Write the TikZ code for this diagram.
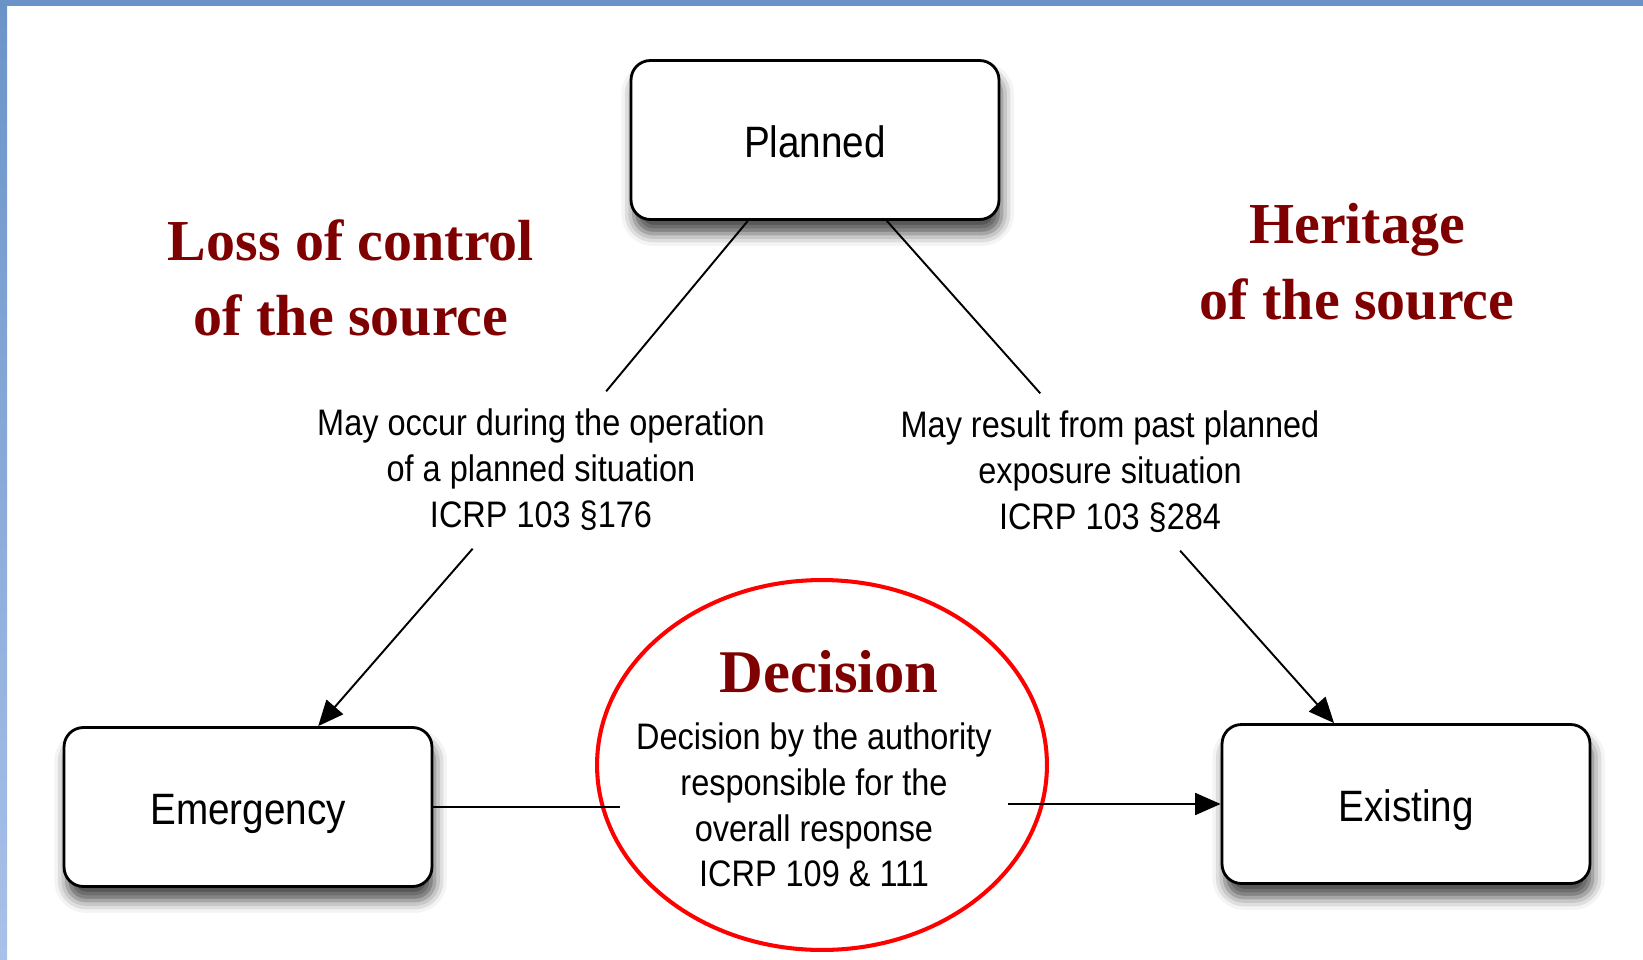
\documentclass[tikz,border=0pt]{standalone}
\usepackage{fontspec}
\setmainfont{Liberation Sans}[FakeStretch=0.88]
\newfontfamily\headfont{Liberation Serif}
\usetikzlibrary{arrows.meta,shapes.geometric,shadows.blur}

\definecolor{headred}{HTML}{7F0000}
\definecolor{barblue}{HTML}{6A94C8}
\definecolor{barlight}{HTML}{A9C1EA}

\begin{document}
\begin{tikzpicture}[x=0.02cm,y=-0.02cm]
\useasboundingbox (0,0) rectangle (1643,960);

% Slide frame: blue bar on top, shaded bar on the left
\fill[barblue] (0,0) rectangle (1643,6);
\shade[top color=barblue,bottom color=barlight] (0,6) rectangle (7,960);

% Styles for the three situations, the notes and the red headings
\tikzstyle{state}=[draw, line width=1.6pt, rounded corners=11pt, fill=white,
  minimum width=7.36cm, minimum height=3.18cm, text height=19.5pt, text depth=0pt,
  font=\fontsize{25}{30}\selectfont,
  blur shadow={shadow xshift=1.5pt, shadow yshift=-8pt, shadow blur radius=7pt, shadow opacity=70}]
\tikzstyle{note}=[align=center, inner sep=10pt, font=\fontsize{21}{26.1}\selectfont]
\tikzstyle{head}=[align=center, text=headred, font=\headfont\bfseries\fontsize{33}{43}\selectfont]
\tikzstyle{link}=[line width=1.1pt]
\tikzstyle{arrow}=[link, -{Triangle[length=14.5pt, width=12.5pt]}]

% The three exposure situations
\node[state] (planned) at (815,140) {Planned};
\node[state] (emergency) at (248,807) {Emergency};
\node[state] (existing) at (1406,804) {Existing};

% Notes on the two sides of the triangle
\node[note] (occur) at (541,470) {May occur during the operation\\of a planned situation\\ICRP 103 §176};
\node[note] (result) at (1110,472) {May result from past planned\\exposure situation\\ICRP 103 §284};

% The decision in the red ellipse
\node[draw=red, line width=2.3pt, ellipse, minimum width=9cm, minimum height=7.4cm] (decision) at (822,765) {};
\node[head, font=\headfont\bfseries\fontsize{34.5}{40}\selectfont] (decisionhead) at (829,672) {Decision};
\node[note, inner sep=9pt] (authority) at (814,805) {Decision by the authority\\responsible for the\\overall response\\ICRP 109 \& 111};

% Red headings
\node[head] (loss) at (351,278) {Loss of control\\of the source};
\node[head] (heritage) at (1357,262) {Heritage\\of the source};

% Connectors
\draw[link] (planned) -- (occur);
\draw[arrow] (occur) -- (emergency);
\draw[link] (planned) -- (result);
\draw[arrow] (result) -- (existing);
\draw[link] (emergency.east) -- (emergency.east -| authority.west);
\draw[arrow] (authority.east |- existing.west) -- (existing.west);

\end{tikzpicture}
\end{document}
